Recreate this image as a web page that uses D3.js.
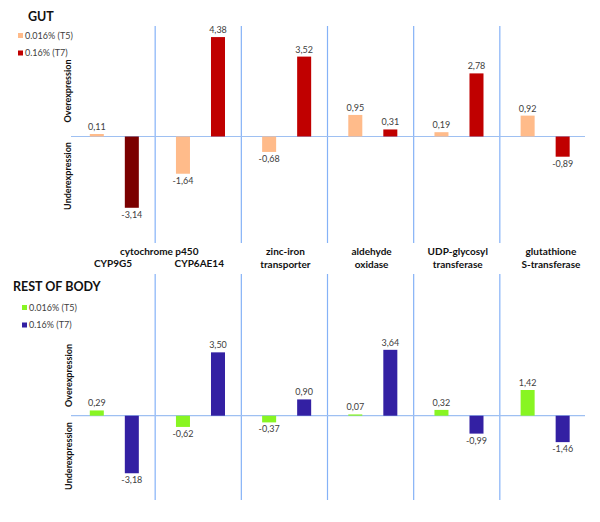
<!DOCTYPE html>
<html>
<head>
<meta charset="utf-8">
<script src="https://cdn.jsdelivr.net/npm/d3@7"></script>
<style>
  body { margin: 0; background: #fff; }
  svg { display: block; font-family: Lato, "Open Sans", sans-serif; }
  .val { font-size: 9px; fill: #404040; }
  .cat { font-size: 10px; font-weight: bold; fill: #111; }
  .side { font-size: 9px; font-weight: bold; fill: #111; }
  .leg { font-size: 9px; fill: #404040; }
</style>
</head>
<body>
<div id="chart"></div>
<script>
// genes (one band each); cytochrome p450 spans the first two
const genes = ["CYP9G5", "CYP6AE14", "zinc-iron", "aldehyde", "UDP", "glutathione"];
const catLines = [["CYP9G5"], ["CYP6AE14"], ["zinc-iron", "transporter"], ["aldehyde", "oxidase"],
                  ["UDP-glycosyl", "transferase"], ["glutathione", "S-transferase"]];
const series = ["0.016% (T5)", "0.16% (T7)"];
const gutT5 = [0.11, -1.64, -0.68, 0.95, 0.19, 0.92];
const gutT7 = [-3.14, 4.38, 3.52, 0.31, 2.78, -0.89];
const bodyT5 = [0.29, -0.62, -0.37, 0.07, 0.32, 1.42];
const bodyT7 = [-3.18, 3.50, 0.90, 3.64, -0.99, -1.46];

const width = 600, height = 522;
const svg = d3.select('#chart').append('svg').attr('width', width).attr('height', height);

const x = d3.scaleBand().domain(genes).range([69, 586]);
const x1 = d3.scaleBand().domain(series).range([0, x.bandwidth()]).paddingInner(0.6).paddingOuter(0.53).align(0.56);

const fmt = v => d3.format(".2f")(v).replace(".", ",").replace("−", "-");
const lineCol = "#85b2f7";

const panels = [
  { title: "GUT", t5: gutT5, t7: gutT7, colors: ["#ffbb8a", "#c00000"], dark: "#7b0000",
    y: d3.scaleLinear().domain([-4, 5]).range([136.5 + 4 * 22.7, 136.5 - 5 * 22.7]),
    titleY: 21, legY: 35, lineTop: 26, lineBot: 243, over: [55, 127], under: [146, 206] },
  { title: "REST OF BODY", t5: bodyT5, t7: bodyT7, colors: ["#88f522", "#3320a3"], dark: null,
    y: d3.scaleLinear().domain([-4, 5]).range([415.7 + 4 * 18.1, 415.7 - 5 * 18.1]),
    titleY: 291, legY: 307, lineTop: 274, lineBot: 500, over: [348, 403], under: [427, 485] }
];

panels.forEach(function(p, pi) {
  const g = svg.append('g');
  const y = p.y;
  // vertical separators between genes
  g.selectAll('line.sep').data(genes.slice(1)).enter().append('line')
    .attr('x1', d => x(d)).attr('x2', d => x(d))
    .attr('y1', p.lineTop).attr('y2', p.lineBot)
    .attr('stroke', lineCol).attr('stroke-width', 1.2);
  // zero line
  g.append('line').attr('x1', 71).attr('x2', 585).attr('y1', y(0)).attr('y2', y(0))
    .attr('stroke', "#9ec0f2").attr('stroke-width', 1.2);

  const rows = genes.map((gname, i) => ({ gene: gname, vals: [p.t5[i], p.t7[i]] }));
  const grp = g.selectAll('g.gene').data(rows).enter().append('g')
    .attr('transform', d => 'translate(' + x(d.gene) + ',0)');
  const bars = grp.selectAll('rect').data(d => d.vals.map((v, j) => ({ s: series[j], j: j, v: v, gene: d.gene })))
    .enter();
  bars.append('rect')
    .attr('x', d => x1(d.s)).attr('width', x1.bandwidth())
    .attr('y', d => y(Math.max(0, d.v))).attr('height', d => Math.abs(y(d.v) - y(0)))
    .attr('fill', d => (p.dark && d.gene === "CYP9G5" && d.j === 1) ? p.dark : p.colors[d.j]);
  bars.append('text').attr('class', 'val').attr('text-anchor', 'middle')
    .attr('x', d => x1(d.s) + x1.bandwidth() / 2)
    .attr('y', d => d.v >= 0 ? y(d.v) - 4 : y(d.v) + 10)
    .text(d => fmt(d.v));

  // title
  g.append('text').attr('x', pi === 0 ? 28 : 13).attr('y', p.titleY)
    .attr('font-size', 12.5).attr('font-weight', 'bold').attr('fill', '#111').text(p.title);
  // legend
  const lx = pi === 0 ? 18 : 22;
  series.forEach(function(s, j) {
    g.append('rect').attr('x', lx).attr('y', p.legY - 2 + j * 17.5).attr('width', 5).attr('height', 5)
      .attr('fill', p.colors[j]);
    g.append('text').attr('class', 'leg').attr('x', lx + 7).attr('y', p.legY + 3.5 + j * 17.5).text(s);
  });
  // side labels
  [["Overexpression", p.over], ["Underexpression", p.under]].forEach(function(s) {
    const cy = (s[1][0] + s[1][1]) / 2;
    g.append('text').attr('class', 'side').attr('text-anchor', 'middle')
      .attr('transform', 'translate(' + (pi === 0 ? 71 : 71.5) + ',' + cy + ') rotate(-90)')
      .text(s[0]);
  });
});

// category labels between panels
svg.append('text').attr('class', 'cat').attr('text-anchor', 'middle')
  .attr('x', x("CYP6AE14") + 4).attr('y', 255).text("cytochrome p450");
genes.forEach(function(gname, i) {
  const lines = catLines[i];
  const cx = x(gname) + x.bandwidth() / 2 + (i === 5 ? 8 : 1);
  const t = svg.append('text').attr('class', 'cat').attr('text-anchor', 'middle').attr('x', cx);
  lines.forEach(function(l, k) {
    const yy = lines.length === 1 ? 267 : 255 + k * 12.5;
    t.append('tspan').attr('x', cx).attr('y', yy).text(l);
  });
});
</script>
</body>
</html>
